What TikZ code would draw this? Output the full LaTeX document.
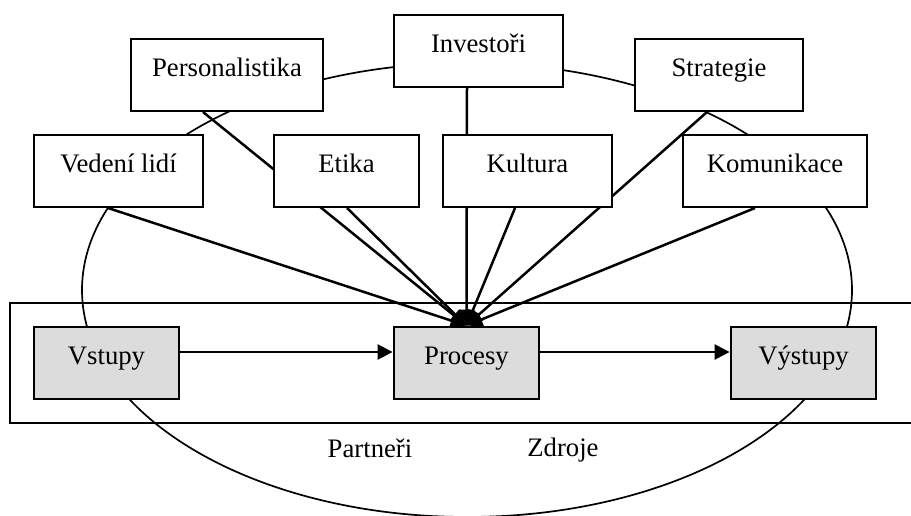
\documentclass[tikz,border=0pt]{standalone}
\usepackage{fontspec}
\setmainfont{Liberation Serif}
\usetikzlibrary{arrows.meta}
\definecolor{stagegray}{HTML}{DCDCDC}
\pgfdeclarelayer{behind}
\pgfsetlayers{behind,main}
\begin{document}
\begin{tikzpicture}[x=1pt,y=-1pt,
  txt/.style={font=\fontsize{26.7pt}{32pt}\selectfont},
  topic/.style={txt, draw, line width=2pt, fill=white, inner xsep=0pt, inner ysep=0pt,
    text height=37.5pt, text depth=34.5pt, minimum width=#1},
  stage/.style={topic=#1, fill=stagegray, line width=2.8pt},
  link/.style={line width=2.5pt, -{Triangle[length=16pt,width=14pt]}},
  flow/.style={line width=2.5pt, -{Triangle[length=15pt,width=15pt]}},
  thin/.style={line width=1.7pt}]

\clip (0,0) rectangle (911,516);

% upper row of topics
\node[topic=192pt] (personalistika) at (227,75) {Personalistika};
\node[topic=169pt] (investori) at (478.5,51) {Investoři};
\node[topic=168pt] (strategie) at (719,75) {Strategie};
% lower row of topics
\node[topic=169pt] (vedeni) at (118.5,171) {Vedení lidí};
\node[topic=145pt] (etika) at (346.5,171) {Etika};
\node[topic=169pt] (kultura) at (527.5,171) {Kultura};
\node[topic=184pt] (komunikace) at (775,171) {Komunikace};
% process row
\node[stage=145pt] (vstupy) at (106.5,363) {Vstupy};
\node[stage=145pt] (procesy) at (466.5,363) {Procesy};
\node[stage=145pt] (vystupy) at (803.5,363) {Výstupy};

\draw[flow] ([yshift=11pt]vstupy.east) -- ([yshift=11pt]procesy.west);
\draw[flow] ([yshift=11pt]procesy.east) -- ([yshift=11pt]vystupy.west);

\node[txt] (partneri) at (370,448) {Partneři};
\node[txt] (zdroje) at (563,450) {Zdroje};

% everything below lies behind the boxes
\begin{pgfonlayer}{behind}
  \draw[thin] (467,290) ellipse [x radius=385pt, y radius=227pt];
  \coordinate (frameTR) at (911,303);
  \coordinate (frameTL) at (10,303);
  \coordinate (frameBL) at (10,423);
  \coordinate (frameBR) at (911,423);
  \draw[thin] (frameTR) -- (frameTL) -- (frameBL) -- (frameBR);

  \draw[link] ([xshift=-24pt]personalistika.south) -- (procesy.north);
  \draw[link] ([xshift=-11.5pt]investori.south) -- (procesy.north);
  \draw[link] ([xshift=-12pt]strategie.south) -- (procesy.north);
  \draw[link] ([xshift=-10.5pt]vedeni.south) -- (procesy.north);
  \draw[link] ([xshift=0.5pt]etika.south) -- (procesy.north);
  \draw[link] ([xshift=-12.5pt]kultura.south) -- (procesy.north);
  \draw[link] ([xshift=-20pt]komunikace.south) -- (procesy.north);
\end{pgfonlayer}
\end{tikzpicture}
\end{document}
